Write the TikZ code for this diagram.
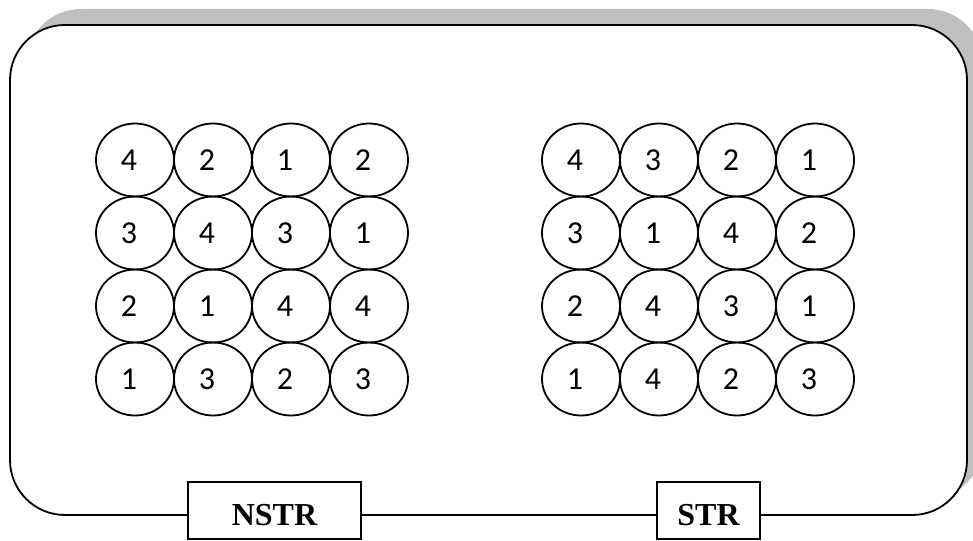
\documentclass[tikz,border=0pt]{standalone}
\usepackage{fontspec}
\setmainfont{Liberation Serif}
\newfontfamily\digitfont{Carlito}
\usetikzlibrary{shapes.geometric}
\definecolor{shadowgray}{HTML}{BFBFBF}
\begin{document}
\begin{tikzpicture}[x=1pt,y=-1pt,
  cell/.style={ellipse, draw, line width=1.8pt, minimum width=78pt, minimum height=73pt, inner sep=0pt},
  num/.style={font=\digitfont\fontsize{32}{32}\selectfont, anchor=center, xshift=-6pt, inner sep=0pt},
  tag/.style={draw, line width=1.2pt, fill=white, minimum height=57pt, inner sep=0pt,
    text height=29pt, text depth=0pt, font=\bfseries\fontsize{32}{32}\selectfont}]
\useasboundingbox (0,0) rectangle (973,540);
% frame with its shadow
\fill[shadowgray, rounded corners=55pt] (26,9) rectangle (983,499);
\draw[line width=1.8pt, fill=white, rounded corners=55pt] (10,25) rectangle (967,515);
% left grid
\foreach \row [count=\r] in {{4,2,1,2},{3,4,3,1},{2,1,4,4},{1,3,2,3}} {
  \foreach \d [count=\c] in \row {
    \node[cell] (L\r\c) at ({135+78*(\c-1)}, {160+73*(\r-1)}) {};
    \node[num] (l\r\c) at (L\r\c.center) {\d};
  }
}
% right grid
\foreach \row [count=\r] in {{4,3,2,1},{3,1,4,2},{2,4,3,1},{1,4,2,3}} {
  \foreach \d [count=\c] in \row {
    \node[cell] (R\r\c) at ({581+78*(\c-1)}, {160+73*(\r-1)}) {};
    \node[num] (r\r\c) at (R\r\c.center) {\d};
  }
}
% labels on the bottom edge
\node[tag, minimum width=173pt] (nstr) at (274.5,510.5) {NSTR};
\node[tag, minimum width=103pt] (str) at (708.5,510.5) {STR};
\end{tikzpicture}
\end{document}
